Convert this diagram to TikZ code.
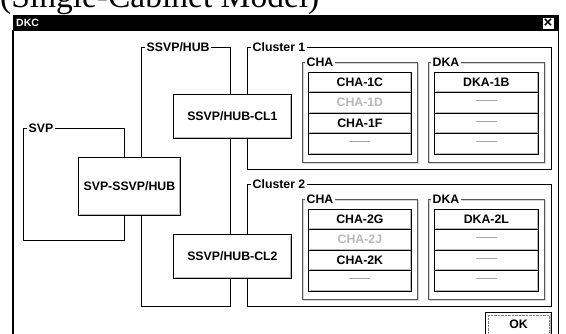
\documentclass[tikz,border=0pt]{standalone}
\usepackage{fontspec}
\setmainfont{Liberation Sans}
\newfontfamily\capfont{Liberation Serif}
\newcommand{\dkcDash}{\textcolor{gray!70}{\rule[3.8pt]{21pt}{0.9pt}}}
\begin{document}
\begin{tikzpicture}[x=1pt,y=-1pt,
    dkcFrame/.style={draw=black,line width=0.8pt},
    dkcGroup/.style={draw=gray!70!black,line width=0.8pt},
    dkcGroupLt/.style={draw=gray!35,line width=0.6pt},
    dkcLabel/.style={fill=white,inner sep=1.5pt,anchor=west,font=\bfseries\fontsize{12.3}{13}\selectfont},
    dkcBox/.style={draw=black,fill=white,line width=0.8pt,inner sep=0pt,anchor=north west,font=\bfseries\fontsize{12.3}{13}\selectfont},
    dkcHub/.style={dkcBox,minimum width=118pt,minimum height=44pt},
    dkcRowA/.style={dkcBox,minimum width=103pt,minimum height=20.5pt},
    dkcRowB/.style={dkcBox,minimum width=104pt,minimum height=20.5pt},
    dkcOff/.style={text=gray!55},
    dkcShade/.style={draw=gray!55,line width=1pt},
]
\useasboundingbox (0,0) rectangle (566,333);
\clip (0,0) rectangle (566,333);
% Caption, cut off by the top edge
\node[anchor=base west,inner sep=0pt,font=\capfont\fontsize{33.5}{36}\selectfont] (capt) at (0,7) {(Single-Cabinet Model)};
% Window and title bar
\fill[black] (13,15) rectangle (559,30.5);
\node[anchor=west,inner sep=0pt,text=white,font=\bfseries\fontsize{10.5}{11}\selectfont] (ttl) at (16,22.8) {DKC};
\node[draw=black,fill=white,line width=0.6pt,minimum size=12pt,inner sep=0pt,font=\bfseries\fontsize{15}{15}\selectfont] (cls) at (548,23) {×};
\draw[line width=1.2pt] (13,30) -- (13,340);
\draw[line width=1.2pt] (558.5,30) -- (558.5,340);
% Frames
\draw[dkcFrame] (141,47) rectangle (230,306);
\node[dkcLabel] (lSsvp) at (145,47) {SSVP/HUB};
\draw[dkcFrame] (23,128) rectangle (124,240);
\node[dkcLabel] (lSvp) at (27,128) {SVP};
\draw[dkcFrame] (247,47) rectangle (551,169);
\node[dkcLabel] (lCl1) at (251,47) {Cluster 1};
\draw[dkcFrame] (247,184) rectangle (551,306);
\node[dkcLabel] (lCl2) at (251,184) {Cluster 2};
% Adapter groups
\foreach \y in {62,199} {
  \draw[dkcGroupLt] (303.2,\y+1.2) rectangle (418.2,\y+101.2);
  \draw[dkcGroup] (302,\y) rectangle (417,\y+100);
  \draw[dkcGroupLt] (429.2,\y+1.2) rectangle (545.2,\y+101.2);
  \draw[dkcGroup] (428,\y) rectangle (544,\y+100);
}
\node[dkcLabel] (lCha1) at (305,62) {CHA};
\node[dkcLabel] (lDka1) at (431,62) {DKA};
\node[dkcLabel] (lCha2) at (305,199) {CHA};
\node[dkcLabel] (lDka2) at (431,199) {DKA};
% Hubs
\node[dkcBox,minimum width=102pt,minimum height=58pt] (svpHub) at (78,157) {SVP-SSVP/HUB};
\node[dkcHub] (clOne) at (173,94) {SSVP/HUB-CL1};
\node[dkcHub] (clTwo) at (173,234) {SSVP/HUB-CL2};
% Cluster 1 rows
\node[dkcRowA] (c1a) at (308,71.5) {CHA-1C};
\node[dkcRowA,dkcOff] (c1b) at (308,92) {CHA-1D};
\node[dkcRowA] (c1c) at (308,112.5) {CHA-1F};
\node[dkcRowA] (c1d) at (308,133) {\dkcDash};
\node[dkcRowB] (d1a) at (434,71.5) {DKA-1B};
\node[dkcRowB] (d1b) at (434,92) {\dkcDash};
\node[dkcRowB] (d1c) at (434,112.5) {\dkcDash};
\node[dkcRowB] (d1d) at (434,133) {\dkcDash};
% Cluster 2 rows
\node[dkcRowA] (c2a) at (308,208.5) {CHA-2G};
\node[dkcRowA,dkcOff] (c2b) at (308,229) {CHA-2J};
\node[dkcRowA] (c2c) at (308,249.5) {CHA-2K};
\node[dkcRowA] (c2d) at (308,270) {\dkcDash};
\node[dkcRowB] (d2a) at (434,208.5) {DKA-2L};
\node[dkcRowB] (d2b) at (434,229) {\dkcDash};
\node[dkcRowB] (d2c) at (434,249.5) {\dkcDash};
\node[dkcRowB] (d2d) at (434,270) {\dkcDash};
% OK button
\node[dkcBox,line width=1pt,minimum width=66pt,minimum height=24pt] (okBtn) at (485,312) {OK};
\draw[densely dotted,gray] ([xshift=3pt,yshift=-3pt]okBtn.north west) rectangle ([xshift=-3pt,yshift=3pt]okBtn.south east);
% Raised edges
\foreach \n in {svpHub,clOne,clTwo,c1a,c1b,c1c,c1d,d1a,d1b,d1c,d1d,c2a,c2b,c2c,c2d,d2a,d2b,d2c,d2d,okBtn}
  \draw[dkcShade] ([xshift=1.5pt,yshift=1.3pt]\n.south west) -- ([xshift=-1.3pt,yshift=1.3pt]\n.south east) -- ([xshift=-1.3pt,yshift=-1.5pt]\n.north east);
\end{tikzpicture}
\end{document}
